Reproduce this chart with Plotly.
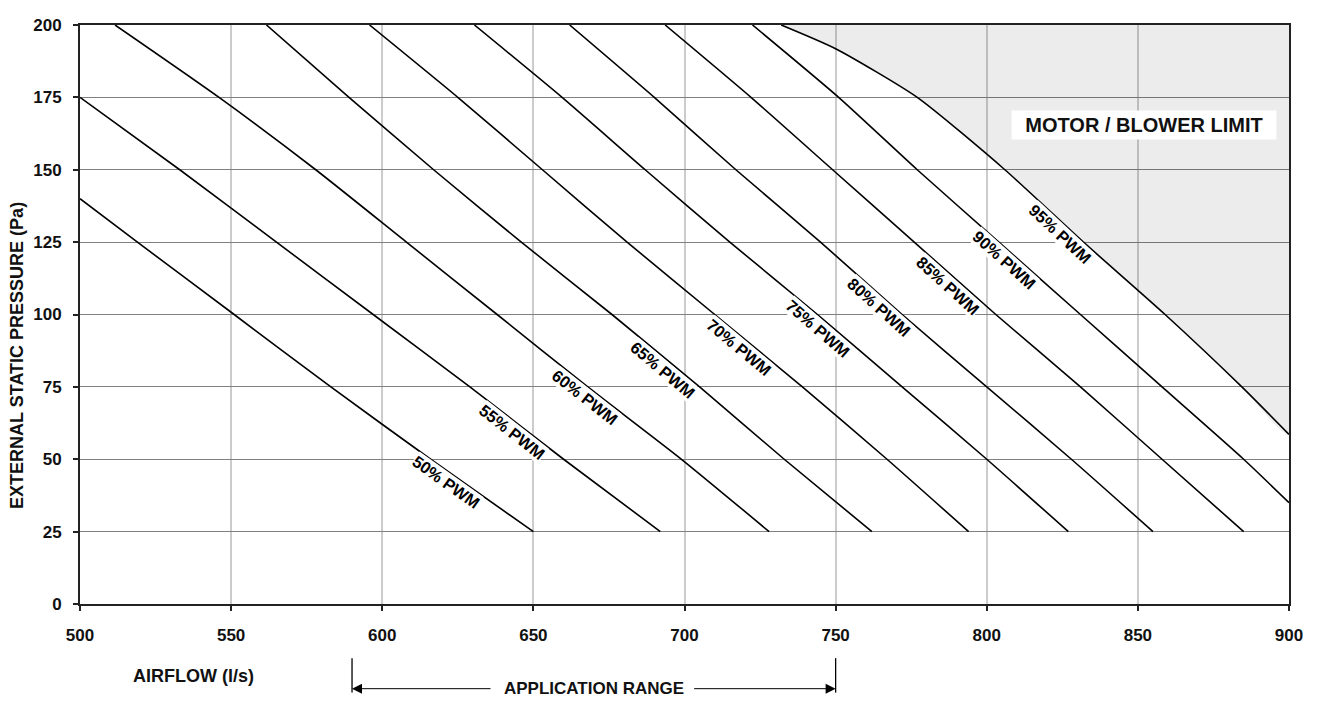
import numpy as np
import plotly.graph_objects as go

# ---- data ----
pwm_labels = ["50% PWM", "55% PWM", "60% PWM", "65% PWM", "70% PWM",
              "75% PWM", "80% PWM", "85% PWM", "90% PWM", "95% PWM"]

airflow_50 = [500, 519, 551, 583, 616, 650]
pressure_50 = [140, 125, 100, 75, 50, 25]
airflow_55 = [500, 533, 565, 597, 629, 660, 692]
pressure_55 = [175, 150, 125, 100, 75, 50, 25]
airflow_60 = [511.6, 546, 578, 608, 638, 668, 699, 728]
pressure_60 = [200, 175, 150, 125, 100, 75, 50, 25]
airflow_65 = [561.7, 589, 617, 646, 676, 705, 733, 762]
pressure_65 = [200, 175, 150, 125, 100, 75, 50, 25]
airflow_70 = [595.8, 625, 653, 681, 710, 739, 767, 794]
pressure_70 = [200, 175, 150, 125, 100, 75, 50, 25]
airflow_75 = [630.5, 659.5, 687, 715, 744, 772, 800, 827]
pressure_75 = [200, 175, 150, 125, 100, 75, 50, 25]
airflow_80 = [662, 690, 717, 745, 772, 800, 828, 855]
pressure_80 = [200, 175, 150, 125, 100, 75, 50, 25]
airflow_85 = [693.6, 722, 749, 776, 803, 831, 858, 885]
pressure_85 = [200, 175, 150, 125, 100, 75, 50, 25]
airflow_90 = [722.5, 751, 777, 804, 831, 858, 885, 900]
pressure_90 = [200, 175, 150, 125, 100, 75, 50, 35]
airflow_95 = [732, 750, 777, 806, 832, 859, 884.4, 900]
pressure_95 = [200, 191.8, 175, 150, 125, 100, 75, 58.6]

label_airflow = [623, 645, 669, 695, 720, 746.5, 766.5, 789.5, 808, 826.5]

x_ticks = [500, 550, 600, 650, 700, 750, 800, 850, 900]
y_ticks = [0, 25, 50, 75, 100, 125, 150, 175, 200]

app_range = [590, 750]

curves_x = [airflow_50, airflow_55, airflow_60, airflow_65, airflow_70,
            airflow_75, airflow_80, airflow_85, airflow_90, airflow_95]
curves_y = [pressure_50, pressure_55, pressure_60, pressure_65, pressure_70,
            pressure_75, pressure_80, pressure_85, pressure_90, pressure_95]

# ---- layout geometry (page has an 8px body margin) ----
W, H = 1303, 694
ML, MT = 72, 8
PW, PH = 1210, 588
MR = W - ML - PW
MB = H - MT - PH
XR, YR = [500, 900], [0, 200]
sx = PW / (XR[1] - XR[0])
sy = PH / (YR[1] - YR[0])
PLOT_LEFT_PAGE, PLOT_BOTTOM_PAGE = 80, 604

FONT = "Liberation Sans, Arial, sans-serif"


def paper_x(page_px):
    return (page_px - PLOT_LEFT_PAGE) / PW


def paper_y(page_py):
    return (PLOT_BOTTOM_PAGE - page_py) / PH


fig = go.Figure()

# motor / blower limit shaded zone (above the 95% curve)
fig.add_trace(go.Scatter(
    x=airflow_95 + [XR[1]], y=pressure_95 + [YR[1]],
    fill="toself", fillcolor="rgba(0,0,0,0.075)",
    mode="lines", line=dict(width=0, shape="spline", smoothing=0.6),
    hoverinfo="skip", showlegend=False))

for cx, cy, name in zip(curves_x, curves_y, pwm_labels):
    fig.add_trace(go.Scatter(x=cx, y=cy, mode="lines", name=name,
                             line=dict(color="black", width=1.6,
                                       shape="spline", smoothing=0.6),
                             showlegend=False))

# rotated curve labels sitting just under each line
d = 10
for cx, cy, name, lx in zip(curves_x, curves_y, pwm_labels, label_airflow):
    xs = np.array(cx, dtype=float)
    ys = np.array(cy, dtype=float)
    ly = float(np.interp(lx, xs, ys))
    i = int(np.clip(np.searchsorted(xs, lx) - 1, 0, len(xs) - 2))
    slope = (ys[i + 1] - ys[i]) / (xs[i + 1] - xs[i])
    ang = np.degrees(np.arctan(-slope * sy / sx))
    th = np.radians(ang)
    fig.add_annotation(
        x=lx, y=ly, xref="x", yref="y", text=name, showarrow=False,
        textangle=ang, xshift=-d * np.sin(th), yshift=-d * np.cos(th),
        font=dict(family=FONT, size=16.5, color="black", weight="bold"),
        bgcolor="white", borderpad=0)

# MOTOR / BLOWER LIMIT box
fig.add_annotation(
    x=852, y=165.6, xref="x", yref="y", text="MOTOR / BLOWER LIMIT",
    showarrow=False, bgcolor="white", width=262, height=26,
    font=dict(family=FONT, size=20, color="#111", weight="bold"))

# y axis title
fig.add_annotation(
    x=paper_x(17.5), y=paper_y(351.5), xref="paper", yref="paper",
    xanchor="center", yanchor="middle",
    text="EXTERNAL STATIC PRESSURE (Pa)", textangle=-90, showarrow=False,
    font=dict(family=FONT, size=18, color="#111", weight="bold"))

# x axis title
fig.add_annotation(
    x=paper_x(194), y=paper_y(677), xref="paper", yref="paper",
    xanchor="center", yanchor="middle",
    text="AIRFLOW (l/s)", showarrow=False,
    font=dict(family=FONT, size=18, color="#111", weight="bold"))

# application range bracket
for xv in app_range:
    fig.add_shape(type="line", xref="x", yref="paper", x0=xv, x1=xv,
                  y0=paper_y(659), y1=paper_y(694),
                  line=dict(color="black", width=1.3))

arrow_y = paper_y(690)
fig.add_annotation(x=app_range[0], y=arrow_y, xref="x", yref="paper",
                   ax=140, ay=0, axref="pixel", ayref="pixel", text="",
                   showarrow=True, arrowhead=2, arrowsize=2, arrowwidth=1,
                   arrowcolor="black")
fig.add_annotation(x=app_range[1], y=arrow_y, xref="x", yref="paper",
                   ax=-143, ay=0, axref="pixel", ayref="pixel", text="",
                   showarrow=True, arrowhead=2, arrowsize=2, arrowwidth=1,
                   arrowcolor="black")
fig.add_annotation(x=(app_range[0] + app_range[1]) / 2, y=paper_y(701),
                   xref="x", yref="paper", text="APPLICATION RANGE",
                   xanchor="center", yanchor="bottom", showarrow=False,
                   font=dict(family=FONT, size=17, color="#111", weight="bold"))

fig.update_layout(
    width=W, height=H,
    margin=dict(l=ML, r=MR, t=MT, b=MB, pad=0),
    paper_bgcolor="white", plot_bgcolor="white",
    showlegend=False,
    font=dict(family=FONT, color="#111"),
)
fig.update_xaxes(
    range=XR, tickvals=x_ticks, ticktext=[str(v) for v in x_ticks],
    showgrid=True, gridcolor="#cccccc", gridwidth=1.8,
    showline=True, linecolor="#222", linewidth=2, mirror=True,
    ticks="outside", ticklen=5, tickcolor="#222", tickwidth=1.5,
    ticklabelstandoff=10, zeroline=False,
    tickfont=dict(family=FONT, size=17, color="#111", weight="bold"))
fig.update_yaxes(
    range=YR, tickvals=y_ticks, ticktext=[str(v) for v in y_ticks],
    showgrid=True, gridcolor="#808080", gridwidth=1.3,
    showline=True, linecolor="#222", linewidth=2, mirror=True,
    ticks="outside", ticklen=5, tickcolor="#222", tickwidth=1.5,
    ticklabelstandoff=8, zeroline=False,
    tickfont=dict(family=FONT, size=17, color="#111", weight="bold"))

fig.write_html("out.html")
